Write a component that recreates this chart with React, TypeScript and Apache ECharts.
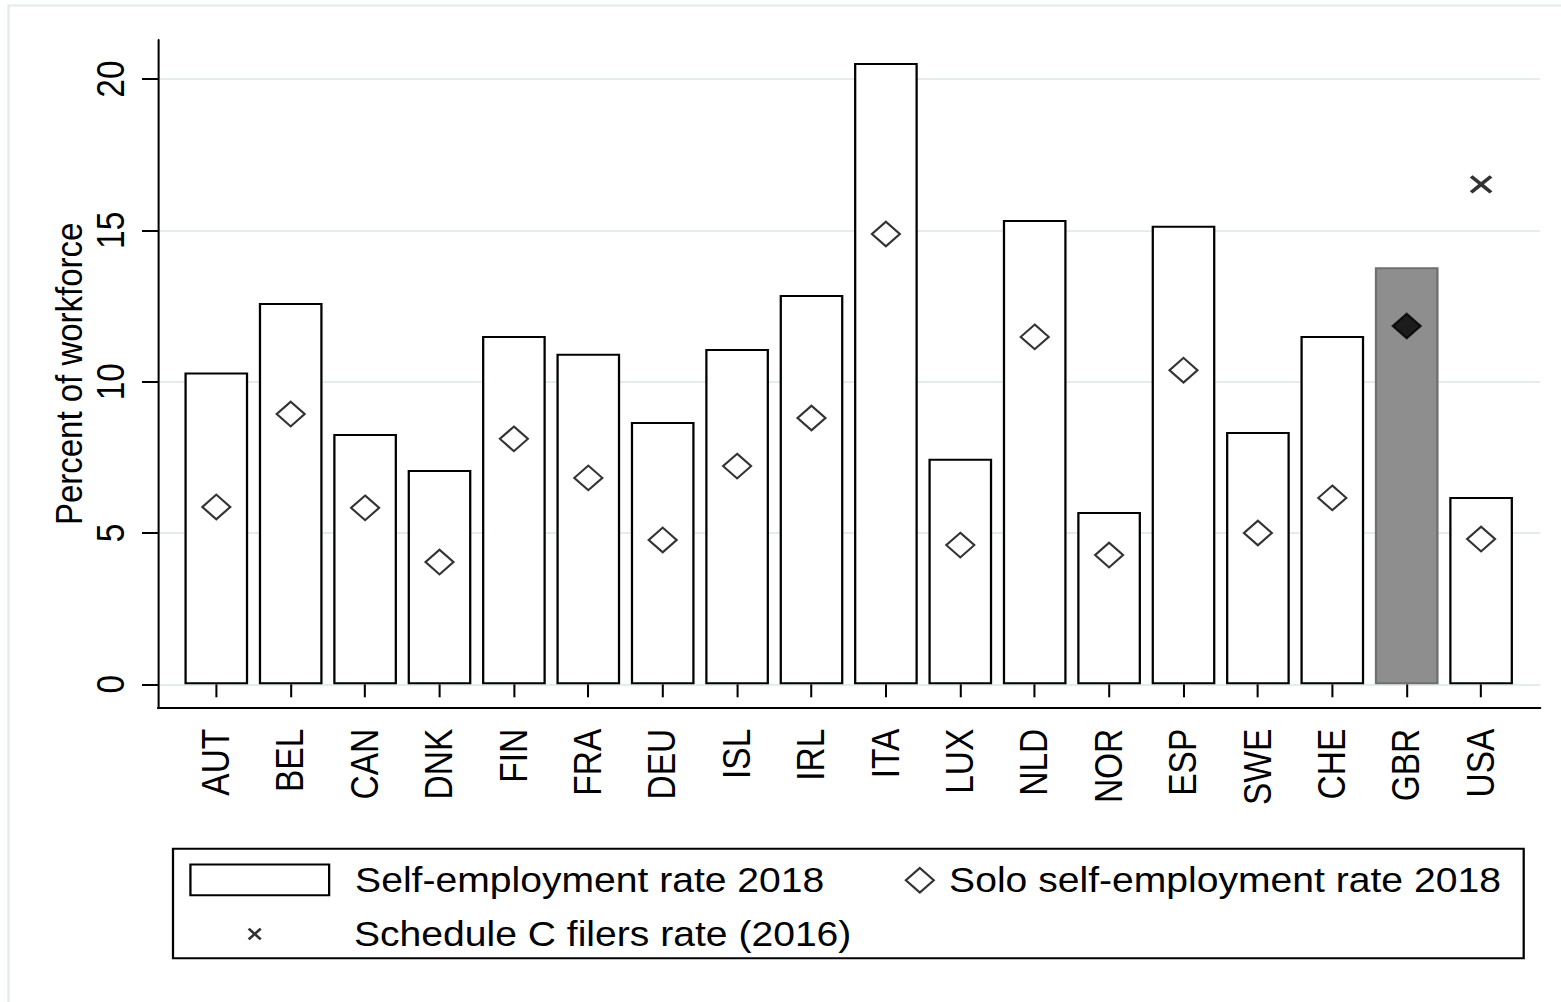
import React, { useEffect, useRef } from "react";
import * as echarts from "echarts";

// ---- data ----
const countries = ["AUT", "BEL", "CAN", "DNK", "FIN", "FRA", "DEU", "ISL", "IRL", "ITA", "LUX", "NLD", "NOR", "ESP", "SWE", "CHE", "GBR", "USA"];
const selfEmployment2018 = [10.3, 12.6, 8.27, 7.08, 11.51, 10.92, 8.67, 11.08, 12.86, 20.53, 7.45, 15.34, 5.69, 15.15, 8.34, 11.51, 13.78, 6.19];
const soloSelfEmployment2018 = [5.86, 8.93, 5.83, 4.04, 8.11, 6.82, 4.77, 7.21, 8.8, 14.88, 4.6, 11.48, 4.27, 10.38, 5.0, 6.16, 11.84, 4.8];
const scheduleC2016 = [null, null, null, null, null, null, null, null, null, null, null, null, null, null, null, null, null, 16.52];
const highlightedCountry = "GBR";
const yTickMin = 0;
const yTickMax = 20;
const yTickStep = 5;
const seriesNames = ["Self-employment rate 2018", "Solo self-employment rate 2018", "Schedule C filers rate (2016)"];

// ---- layout helpers (page is stretched horizontally, like the reference) ----
const S = 1.133;
const W = 1561 / S;
const H = 1002;
const px = (v: number) => v / S;
const FONT = "'Liberation Sans', Arial, Helvetica, sans-serif";
const X_PATH = "path://M0,2.5 L2.5,0 L10,7.5 L17.5,0 L20,2.5 L12.5,10 L20,17.5 L17.5,20 L10,12.5 L2.5,20 L0,17.5 L7.5,10 Z";
const X_PATH_LEGEND = "path://M0,2.8 L2.8,0 L10,7.2 L17.2,0 L20,2.8 L12.8,10 L20,17.2 L17.2,20 L10,12.8 L2.8,20 L0,17.2 L7.2,10 Z";

export default function App() {
  const ref = useRef<HTMLDivElement>(null);
  useEffect(() => {
    if (!ref.current) return;
    const chart = echarts.init(ref.current, undefined, { renderer: "svg" });

    const barData = selfEmployment2018.map((v, i) =>
      countries[i] === highlightedCountry
        ? { value: v, itemStyle: { color: "#8e8e8e", borderColor: "#6f6f6f" } }
        : v
    );
    const soloData = soloSelfEmployment2018.map((v, i) =>
      countries[i] === highlightedCountry ? { value: v, itemStyle: { color: "#000" } } : v
    );
    const schedData = scheduleC2016.map((v) => (v === null ? "-" : v));

    const plotLeft = px(158);
    const plotRight = W - px(1540);

    const option: any = {
      animation: false,
      backgroundColor: "#fff",
      textStyle: { fontFamily: FONT },
      grid: [
        { left: plotLeft, right: plotRight, top: 40, bottom: H - 707.7 },
        { left: plotLeft, right: plotRight, top: 79, bottom: H - 684.3 },
        { left: px(179.1), width: 18 * px(74.4), top: 40, bottom: H - 684.3 },
      ],
      xAxis: [
        {
          gridIndex: 0, type: "value", min: 0, max: 1,
          axisLine: { show: true, onZero: false, lineStyle: { color: "#000", width: 2 } },
          axisTick: { show: false }, axisLabel: { show: false }, splitLine: { show: false },
        },
        { gridIndex: 1, type: "value", min: 0, max: 1, show: false },
        {
          gridIndex: 2, type: "category", data: countries, position: "bottom", offset: 707.7 - 684.3,
          axisLine: { show: false },
          axisTick: { show: true, alignWithLabel: true, length: 13, lineStyle: { color: "#000", width: 1.8 } },
          axisLabel: { rotate: 90, interval: 0, margin: 21, fontSize: 33.5, color: "#000", fontFamily: FONT },
          splitLine: { show: false },
        },
      ],
      yAxis: [
        {
          gridIndex: 0, type: "value", min: 0, max: 1,
          axisLine: { show: true, onZero: false, lineStyle: { color: "#000", width: 1.8 } },
          axisTick: { show: false }, axisLabel: { show: false }, splitLine: { show: false },
          name: "Percent of workforce", nameLocation: "middle", nameGap: 62.5,
          nameTextStyle: { fontSize: 33, color: "#000", fontFamily: FONT },
        },
        {
          gridIndex: 1, type: "value", min: yTickMin, max: yTickMax, interval: yTickStep,
          axisLine: { show: false },
          axisTick: { show: true, length: px(16), lineStyle: { color: "#000", width: 2 } },
          axisLabel: { rotate: 90, margin: 24, fontSize: 33.5, color: "#000", fontFamily: FONT },
          splitLine: { show: true, lineStyle: { color: "#e5ecef", width: 2 } },
        },
        { gridIndex: 2, type: "value", min: 0, max: 21.29, show: false },
      ],
      legend: [
        {
          data: [{ name: seriesNames[0], icon: "rect", itemStyle: { color: "#fff", borderColor: "#000", borderWidth: 2 } }],
          left: px(189.3), top: 862.45, itemWidth: px(138.7), itemHeight: 30.7, padding: 0, selectedMode: false,
          textStyle: { fontSize: 34.5, lineHeight: 34.5, color: "#000", fontFamily: FONT, padding: [0, 0, 0, 17.9] },
        },
        {
          data: [{ name: seriesNames[1], icon: "diamond", itemStyle: { color: "#fff", borderColor: "#000", borderWidth: 2 } }],
          left: px(918.7) - px(28) / 2, top: 862.75, itemWidth: px(28), itemHeight: 24.6, padding: 0, selectedMode: false,
          textStyle: { fontSize: 34.5, lineHeight: 34.5, color: "#000", fontFamily: FONT, padding: [0, 0, 0, 8.5] },
        },
        {
          data: [{ name: seriesNames[2], icon: X_PATH_LEGEND, itemStyle: { color: "#000", borderWidth: 0 } }],
          left: px(254.7) - px(14) / 2, top: 911.5, itemWidth: px(14), itemHeight: 13, padding: 0, selectedMode: false,
          textStyle: { fontSize: 34.5, lineHeight: 34.5, color: "#000", fontFamily: FONT, padding: [0, 0, 10.4, 76.4] },
        },
      ],
      graphic: [
        {
          type: "rect", silent: true,
          shape: { x: px(8.5), y: 5.5, width: W, height: H },
          style: { fill: "none", stroke: "#e3eaee", lineWidth: 2 },
        },
        {
          type: "rect", silent: true,
          shape: { x: px(173), y: 848.7, width: px(1350.7), height: 109.6 },
          style: { fill: "none", stroke: "#000", lineWidth: 2 },
        },
      ],
      series: [
        {
          name: seriesNames[0], type: "bar", xAxisIndex: 2, yAxisIndex: 2, data: barData,
          barWidth: px(63.7), clip: false,
          itemStyle: { color: "#fff", borderColor: "#000", borderWidth: 2 },
          z: 2,
        },
        {
          name: seriesNames[1], type: "scatter", xAxisIndex: 2, yAxisIndex: 2, data: soloData,
          symbol: "diamond", symbolSize: [px(28), 24.6], clip: false,
          itemStyle: { color: "#fff", borderColor: "#000", borderWidth: 2 },
          z: 3,
        },
        {
          name: seriesNames[2], type: "scatter", xAxisIndex: 2, yAxisIndex: 2, data: schedData,
          symbol: X_PATH, symbolSize: [px(22.7), 18.3], clip: false,
          itemStyle: { color: "#000", borderWidth: 0 },
          z: 3,
        },
      ],
    };
    chart.setOption(option);
    return () => chart.dispose();
  }, []);

  return (
    <div
      ref={ref}
      style={{
        position: "fixed",
        left: 0,
        top: 0,
        width: `${W}px`,
        height: `${H}px`,
        transform: `scaleX(${S})`,
        transformOrigin: "0 0",
        background: "#fff",
      }}
    />
  );
}
